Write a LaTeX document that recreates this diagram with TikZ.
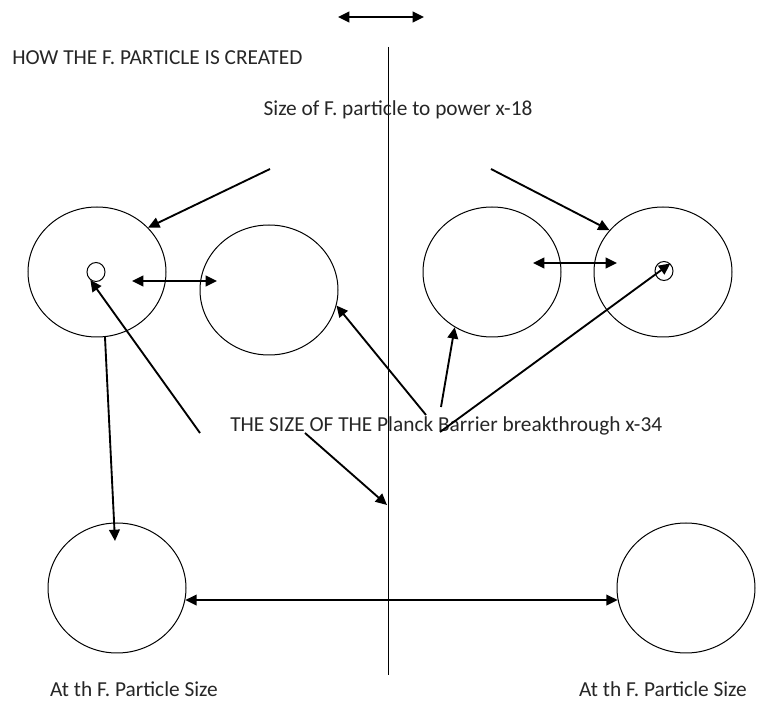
\documentclass[tikz,border=0pt]{standalone}
\usepackage{fontspec}
\setmainfont{Carlito}
\usetikzlibrary{arrows.meta,shapes.geometric}
\begin{document}
\begin{tikzpicture}[x=0.75pt,y=-0.75pt,
  ball/.style={draw,ellipse,line width=0.75pt,inner sep=0pt,minimum width=103.5pt,minimum height=97.5pt},
  seed/.style={draw,ellipse,line width=0.75pt,inner sep=0pt,minimum width=13.5pt,minimum height=14.25pt},
  arr/.style={line width=1.4pt,-{Triangle[length=8.5pt,width=8pt]}},
  darr/.style={line width=1.4pt,{Triangle[length=8.5pt,width=8pt]}-{Triangle[length=8.5pt,width=8pt]}},
  lbl/.style={font=\fontsize{16}{19}\selectfont,inner sep=0pt,text=black!85}]
\useasboundingbox (0,0) rectangle (758,705);

% Axis
\coordinate (topL) at (338,17);
\coordinate (topR) at (424,17);
\draw[darr] (topL) -- (topR);
\coordinate (axT) at (388,47);
\coordinate (axB) at (388,675);
\draw[line width=0.75pt] (axT) -- (axB);

% Labels
\node[lbl,anchor=west] (title) at (12,58) {HOW THE F. PARTICLE IS CREATED};
\node[lbl] (sizeTxt) at (398,110) {Size of F. particle to power x-18};
\node[lbl,anchor=west] (planck) at (230,426) {THE SIZE OF THE Planck Barrier breakthrough x-34};
\node[lbl] (atL) at (134,689) {At th F. Particle Size};
\node[lbl] (atR) at (663,689) {At th F. Particle Size};

% Particles
\node[ball] (c1) at (97,272) {};
\node[ball] (c2) at (269,290) {};
\node[ball] (c3) at (492,272) {};
\node[ball] (c4) at (663,272) {};
\node[ball] (c5) at (117,588) {};
\node[ball] (c6) at (686,588) {};
\node[seed] (s1) at (96,272) {};
\node[seed] (s2) at (664,271) {};

% Free ends
\coordinate (fromL) at (270,169);
\coordinate (fromR) at (491,169);
\coordinate (d1a) at (132,281);
\coordinate (d1b) at (217,281);
\coordinate (d2a) at (533,263);
\coordinate (d2b) at (617,263);
\coordinate (dropEnd) at (115,541);
\coordinate (pSeed) at (200,433);
\coordinate (pC2) at (426,415);
\coordinate (pC3) at (441,407);
\coordinate (pS2) at (440,432);
\coordinate (pAx) at (305,433);
\coordinate (axHit) at (387,505);

% Arrows
\draw[arr] (fromL) -- (c1.41);
\draw[arr] (fromR) -- (c4.142);
\draw[darr] (d1a) -- (d1b);
\draw[darr] (d2a) -- (d2b);
\draw[arr] (c1.-83) -- (dropEnd);
\draw[arr] (pSeed) -- (s1.235);
\draw[arr] (pC2) -- (c2.-13);
\draw[arr] (pC3) -- (c3.236);
\draw[arr] (pS2) -- (s2.50);
\draw[arr] (pAx) -- (axHit);
\draw[darr] (c5.-10) -- (c6.190);
\end{tikzpicture}
\end{document}
